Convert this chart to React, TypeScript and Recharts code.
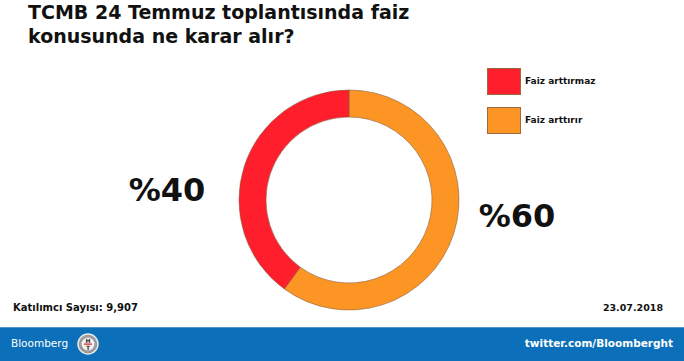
import React from 'react';
import { PieChart, Pie, Cell, Legend } from 'recharts';

// Anket sonuçları
const categories = ['Faiz arttırır', 'Faiz arttırmaz'];
const shares = [60, 40];
const colors = ['#fd9524', '#fe1e2c'];
const legendOrder = [1, 0];

const title = ['TCMB 24 Temmuz toplantısında faiz', 'konusunda ne karar alır?'];
const participants = 'Katılımcı Sayısı: 9,907';
const dateLabel = '23.07.2018';

const data = categories.map((name, i) => ({ name, value: shares[i] }));

const FONT = '"DejaVu Sans", sans-serif';

// label offsets from pie centre, per slice
const labelDx = [168, -182];
const labelDy = [27, 1];

const renderLabel = (props: any) => {
  const { cx, cy, index, value } = props;
  return (
    <text
      x={cx + labelDx[index]}
      y={cy + labelDy[index]}
      textAnchor="middle"
      fill="#111"
      fontFamily={FONT}
      fontWeight="bold"
      fontSize={32}
    >
      %{value}
    </text>
  );
};

const renderLegend = () => (
  <div style={{ fontFamily: FONT }}>
    {legendOrder.map((i, k) => (
      <div
        key={categories[i]}
        style={{ display: 'flex', alignItems: 'center', height: 26, marginBottom: k === 0 ? 13 : 0 }}
      >
        <div
          style={{
            width: 32,
            height: 25,
            background: colors[i],
            border: '0.5px solid #9a6a40',
            marginRight: 4,
          }}
        />
        <span style={{ fontSize: 9, fontWeight: 'bold', color: '#111', whiteSpace: 'nowrap' }}>
          {categories[i]}
        </span>
      </div>
    ))}
  </div>
);

export default function App() {
  return (
    <div
      style={{
        position: 'fixed',
        left: 0,
        top: 0,
        width: 684,
        height: 361,
        background: '#fff',
        overflow: 'hidden',
        fontFamily: FONT,
      }}
    >
      {/* Başlık */}
      <div
        style={{
          position: 'absolute',
          left: 28,
          top: 0,
          fontSize: 19,
          fontWeight: 'bold',
          lineHeight: '24px',
          color: '#111',
          whiteSpace: 'nowrap',
        }}
      >
        <div>{title[0]}</div>
        <div>{title[1]}</div>
      </div>

      <div style={{ position: 'absolute', left: 0, top: 0 }}>
        <PieChart width={684} height={361}>
          <Pie
            data={data}
            dataKey="value"
            nameKey="name"
            cx={344}
            cy={195}
            innerRadius={83}
            outerRadius={110}
            startAngle={90}
            endAngle={-270}
            stroke="#8a6040"
            strokeWidth={0.6}
            label={renderLabel}
            labelLine={false}
            isAnimationActive={false}
          >
            {data.map((d, i) => (
              <Cell key={d.name} fill={colors[i]} />
            ))}
          </Pie>
          <Legend
            content={renderLegend}
            wrapperStyle={{ position: 'absolute', left: 487, top: 68, width: 'auto' }}
          />
        </PieChart>
      </div>

      {/* Alt bilgiler */}
      <div
        style={{
          position: 'absolute',
          left: 13,
          top: 302,
          fontSize: 10,
          fontWeight: 'bold',
          color: '#111',
          whiteSpace: 'nowrap',
        }}
      >
        {participants}
      </div>
      <div
        style={{
          position: 'absolute',
          right: 21,
          top: 302,
          fontSize: 9.5,
          fontWeight: 'bold',
          color: '#111',
          whiteSpace: 'nowrap',
        }}
      >
        {dateLabel}
      </div>

      {/* Mavi şerit */}
      <div
        style={{
          position: 'absolute',
          left: 0,
          top: 327,
          width: 684,
          height: 34,
          background: '#0b6fba',
          borderTop: '1px solid #4a93cc',
        }}
      >
        <span
          style={{
            position: 'absolute',
            left: 11,
            top: 9,
            fontSize: 10.5,
            color: '#fff',
            whiteSpace: 'nowrap',
          }}
        >
          Bloomberg
        </span>
        <svg width={22} height={22} style={{ position: 'absolute', left: 77, top: 5 }}>
          <circle cx={11} cy={11} r={10} fill="#9a9a9a" stroke="#e6e6e6" strokeWidth={1.5} />
          <circle cx={11} cy={11} r={6.5} fill="#f2f2f2" />
          <text x={11} y={10} textAnchor="middle" fontSize={6} fontWeight="bold" fill="#333">H</text>
          <rect x={7} y={10.5} width={8} height={1.2} fill="#d22" />
          <text x={11} y={17} textAnchor="middle" fontSize={6} fontWeight="bold" fill="#333">T</text>
        </svg>
        <span
          style={{
            position: 'absolute',
            right: 11,
            top: 9,
            fontSize: 10.5,
            fontWeight: 'bold',
            color: '#fff',
            whiteSpace: 'nowrap',
          }}
        >
          twitter.com/Bloomberght
        </span>
      </div>
    </div>
  );
}
